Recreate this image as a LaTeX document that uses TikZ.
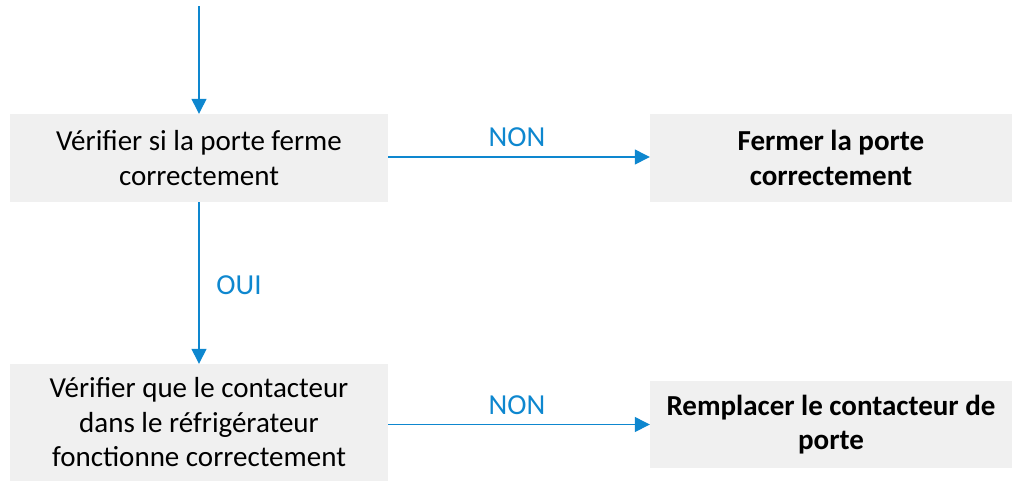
\documentclass[tikz,border=0pt]{standalone}
\usepackage{fontspec}
\setmainfont{Carlito}
\usetikzlibrary{arrows.meta}
\definecolor{b1}{HTML}{0E87CF}
\definecolor{g1}{HTML}{F0F0F0}
\tikzset{>={Triangle[length=15pt,width=15pt]}}
\tikzstyle{step box}=[rectangle,fill=g1,align=center,inner sep=0pt,
  font=\fontsize{29}{34.5}\selectfont]
\tikzstyle{flow}=[->,color=b1,line width=1.3pt]
\tikzstyle{answer}=[color=b1,font=\fontsize{29}{34}\selectfont]

\begin{document}
\begin{tikzpicture}[x=1pt,y=-1pt]
  \useasboundingbox (0,0) rectangle (1014,483);
  \node[step box,minimum width=378pt,minimum height=88pt] (verif) at (199,158)
       {V\'erifier si la porte ferme\\correctement};
  \node[step box,minimum width=362pt,minimum height=88pt] (fermer) at (831,158)
       {\bfseries Fermer la porte\\\bfseries correctement};
  \node[step box,minimum width=378pt,minimum height=117pt] (contact) at (199,422.5)
       {V\'erifier que le contacteur\\dans le r\'efrig\'erateur\\fonctionne correctement};
  \node[step box,minimum width=362pt,minimum height=87pt] (remplacer) at (831,424.5)
       {\bfseries Remplacer le contacteur de\\\bfseries porte};
  \coordinate (start) at (199,6);
  \draw[flow] (start) -- (verif.north);
  \draw[flow] (verif.east |- 0,157) -- (fermer.west |- 0,157);
  \draw[flow] (verif.south) -- (contact.north);
  \draw[flow] (contact.east |- remplacer.west) -- (remplacer.west);
  \node[answer] (non1) at (517,137) {NON};
  \node[answer] (oui) at (239,285) {OUI};
  \node[answer] (non2) at (517,405) {NON};
\end{tikzpicture}
\end{document}
